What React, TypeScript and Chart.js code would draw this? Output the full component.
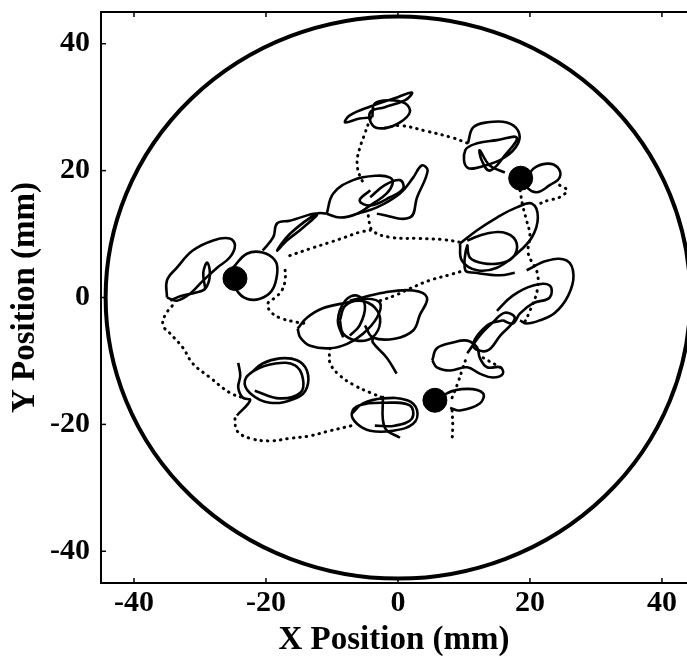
import React, { useEffect, useRef } from "react";
import { Chart, registerables } from "chart.js";
Chart.register(...registerables);

type P = [number, number];

const xTicks = [-40, -20, 0, 20, 40];
const yTicks = [-40, -20, 0, 20, 40];
const xMin = -45;
const xMax = 43.8;
const yMin = -45;
const yMax = 45;
const arenaRadius = 44.3;

// stopping places (filled blobs)
const stopPoints: P[] = [[-24.7, 3.0], [18.6, 18.8], [5.6, -16.2]];

// solid (slow, looping) segments
const loopTop: P[] = [[-3.9, 28.4], [-5.8, 28.2], [-8.0, 27.6], [-7.3, 28.7], [-4.2, 30.1], [-0.5, 31.4], [2.1, 32.3], [1.1, 31.1], [-2.0, 30.0], [-4.2, 29.2], [-3.8, 27.1], [-2.0, 26.7], [0.3, 27.6], [1.8, 29.2], [1.1, 30.6], [-1.2, 31.1], [-3.5, 30.6], [-3.9, 28.4]];
const loopUpperRight: P[] = [[10.6, 24.3], [11.4, 26.8], [13.5, 27.6], [16.5, 27.6], [18.2, 26.3], [18.2, 24.3], [16.2, 22.1], [13.2, 20.8], [10.5, 20.5], [10.2, 23.2], [12.0, 24.3], [15.0, 24.8], [18.0, 25.2], [16.2, 22.4], [13.9, 20.0], [12.7, 21.6], [12.4, 23.2], [13.9, 20.8], [16.2, 19.7]];
const loopRightStop: P[] = [[19.7, 18.8], [20.5, 20.3], [22.6, 21.1], [24.2, 20.5], [24.5, 18.9], [23.0, 17.7], [21.1, 16.6], [19.7, 17.2], [19.2, 18.5]];
const loopRightMidA: P[] = [[9.4, 8.5], [12.0, 10.6], [15.0, 12.6], [18.0, 14.2], [20.3, 14.8], [21.2, 12.6], [20.3, 9.5], [18.0, 6.9], [15.0, 4.7], [12.0, 4.3], [9.7, 5.8], [9.4, 8.5]];
const loopRightMidB: P[] = [[10.5, 9.0], [13.5, 10.1], [16.5, 10.1], [18.0, 8.5], [17.4, 6.3], [15.5, 5.4], [12.9, 5.4], [10.9, 6.3], [10.5, 8.2], [10.2, 4.3], [11.7, 3.9], [15.5, 3.5], [17.7, 3.9]];
const loopUpperA: P[] = [[-10.8, 13.2], [-9.8, 16.4], [-6.8, 18.5], [-3.2, 19.2], [-1.2, 18.9], [-0.8, 18.0], [-1.7, 16.4], [-3.8, 14.8], [-6.2, 13.2], [-8.8, 12.6], [-10.8, 13.2]];
const loopUpperLeaf: P[] = [[-6.2, 13.2], [-3.2, 14.2], [0.3, 16.4], [2.3, 18.9], [3.6, 20.8], [4.5, 20.0], [2.9, 15.8], [1.8, 12.6], [-3.2, 13.2]];
const loopUpperInner: P[] = [[-4.2, 15.8], [-2.0, 17.7], [0.3, 18.5], [0.8, 17.2], [-1.2, 15.8], [-4.2, 14.5], [-5.8, 15.3], [-4.2, 16.9]];
const zigzagUpperLeft: P[] = [[-20.5, 7.4], [-18.9, 9.5], [-18.3, 11.7], [-16.4, 12.1], [-12.3, 13.2], [-14.4, 11.0], [-16.8, 9.0], [-18.3, 7.4], [-16.4, 10.0], [-12.3, 13.2], [-10.8, 13.2]];
const loopLeftBig: P[] = [[-35.0, 0.0], [-35.0, 2.7], [-33.5, 4.7], [-31.1, 7.4], [-28.0, 9.0], [-25.5, 9.3], [-24.7, 8.2], [-25.5, 6.3], [-27.4, 4.7], [-29.5, 2.7], [-31.5, 0.6], [-33.5, -0.5], [-35.0, 0.0]];
const loopLeftSmall: P[] = [[-25.0, 4.7], [-22.9, 6.9], [-20.5, 7.1], [-18.6, 5.8], [-18.3, 3.8], [-19.1, 1.1], [-20.9, -0.2], [-22.9, -0.2], [-24.4, 1.1], [-25.0, 3.5]];
const loopLeftNub: P[] = [[-29.2, 1.4], [-29.5, 3.9], [-28.9, 5.5], [-28.5, 3.5], [-29.2, 1.4], [-30.6, 0.8], [-33.0, 0.2], [-34.5, -0.5]];
const loopLowerLeft: P[] = [[-22.4, -12.0], [-20.5, -10.4], [-17.9, -9.6], [-15.3, -9.9], [-13.8, -11.5], [-13.8, -14.2], [-15.3, -15.8], [-19.4, -16.6], [-22.4, -15.1], [-23.2, -13.1], [-21.7, -11.5], [-18.6, -10.4], [-15.6, -10.7], [-14.4, -12.8], [-14.8, -15.0], [-17.9, -15.9], [-21.7, -14.7]];
const spurLowerLeft: P[] = [[-24.2, -10.3], [-23.9, -12.3], [-24.2, -14.2], [-23.5, -15.8], [-22.4, -16.2], [-24.4, -18.6]];
const loopBottom: P[] = [[-7.0, -18.3], [-5.3, -16.7], [-2.3, -15.9], [1.4, -16.2], [2.9, -17.8], [2.3, -19.9], [-0.8, -21.0], [-4.2, -21.0], [-6.2, -19.9], [-7.0, -18.3], [-5.8, -17.0], [-2.0, -16.6], [1.8, -17.0], [2.1, -19.1], [-0.5, -20.2], [-3.5, -20.2]];
const spurBottom: P[] = [[-2.3, -15.5], [-2.0, -20.5], [0.3, -22.1]];
const loopBottomStop: P[] = [[6.4, -16.6], [7.4, -15.1], [10.5, -14.4], [12.9, -15.1], [12.4, -16.7], [9.4, -17.8], [7.9, -17.4]];
const loopLowerRight: P[] = [[5.2, -9.9], [5.9, -8.0], [8.3, -7.1], [10.5, -6.8], [12.0, -7.9], [12.4, -9.5], [13.5, -11.0], [15.5, -11.0], [15.9, -12.0], [14.4, -12.6], [12.4, -12.0], [10.5, -11.0], [7.9, -11.5], [5.9, -11.0], [5.2, -9.9]];
const chainLowerRight: P[] = [[10.5, -8.8], [12.4, -6.0], [14.4, -3.9], [16.2, -2.4], [17.7, -3.3], [15.5, -6.0], [13.5, -8.4], [11.4, -7.6], [13.5, -4.4], [15.9, -3.6]];
const loopRightUpper: P[] = [[15.0, -2.1], [17.4, 0.3], [20.5, 1.9], [23.0, 1.9], [23.0, 0.0], [20.5, -0.9], [18.5, -2.5], [17.4, -4.1], [15.9, -3.6]];
const loopRightBig: P[] = [[19.5, 4.3], [22.6, 5.8], [25.6, 5.8], [26.6, 3.5], [25.8, 0.3], [23.8, -2.4], [21.5, -3.6], [19.5, -4.1], [18.5, -3.6]];
const loopMidA: P[] = [[-15.2, -4.9], [-13.8, -3.2], [-11.4, -1.7], [-7.7, -0.8], [-4.7, -0.2], [-2.7, -0.9], [-3.2, -3.2], [-5.3, -5.7], [-7.7, -7.3], [-10.3, -8.0], [-13.3, -7.6], [-14.8, -6.3], [-15.2, -4.9]];
const loopMidB: P[] = [[-8.8, -3.6], [-8.0, -1.3], [-5.8, -0.5], [-3.5, -1.6], [-2.7, -3.9], [-3.9, -6.3], [-6.2, -6.8], [-8.3, -5.7], [-8.8, -3.6]];
const loopMidC: P[] = [[-7.3, -0.5], [-2.0, 0.8], [2.3, 1.1], [4.4, 0.0], [3.3, -2.8], [2.3, -5.2], [-0.5, -6.5], [-3.8, -6.3], [-5.0, -4.4]];
const loopMidD: P[] = [[-8.3, -6.3], [-9.1, -3.6], [-8.0, -0.5], [-6.2, 0.3], [-5.0, -1.3], [-5.8, -4.4], [-7.3, -6.0]];
const tailMid: P[] = [[-3.8, -6.3], [-3.8, -7.1], [-1.7, -9.5], [-0.2, -12.0]];

// dotted (fast travel) segments
const dotTopDown: P[] = [[-4.2, 28.2], [-5.0, 25.9], [-5.8, 23.5], [-6.2, 21.3], [-5.8, 19.2], [-5.0, 17.7]];
const dotTopRight: P[] = [[-2.0, 26.7], [0.3, 27.1], [4.4, 26.2], [8.2, 25.2], [10.6, 24.3]];
const dotUpperToRight: P[] = [[-4.5, 12.9], [-3.9, 10.6], [-1.2, 9.5], [3.3, 9.3], [7.1, 9.1], [9.4, 8.7]];
const dotLeftToUpper: P[] = [[-16.4, 6.6], [-13.3, 7.7], [-10.3, 8.7], [-8.0, 9.5], [-5.8, 10.3], [-4.2, 10.6]];
const dotLeftToMiddle: P[] = [[-17.1, 4.3], [-17.1, 2.7], [-17.6, 1.1], [-18.6, 0.0], [-19.7, -0.9], [-19.4, -2.1], [-17.9, -3.2], [-15.3, -3.9], [-13.8, -4.1]];
const dotLeftToLowerLeft: P[] = [[-34.2, -1.3], [-35.3, -2.8], [-35.6, -4.4], [-34.5, -5.7], [-32.6, -7.9], [-31.1, -10.4], [-28.5, -12.6], [-25.5, -15.0], [-23.5, -15.8]];
const dotLowerLeftToBottom: P[] = [[-24.7, -19.1], [-24.4, -21.0], [-22.4, -22.2], [-19.4, -22.6], [-16.4, -22.2], [-13.3, -21.8], [-10.3, -21.0], [-7.0, -20.2]];
const dotMiddleToBottom: P[] = [[-10.3, -8.0], [-10.3, -10.3], [-8.8, -12.3], [-6.5, -13.9], [-4.2, -15.0], [-2.3, -15.8]];
const dotMiddleToRight: P[] = [[-2.7, -0.5], [-0.5, 0.3], [1.8, 1.4], [4.8, 2.7], [7.9, 3.6], [10.2, 4.3]];
const dotRightStopDown: P[] = [[18.5, 16.9], [18.9, 14.5], [19.5, 12.1], [20.0, 9.8], [19.7, 7.4], [20.0, 6.2], [21.1, 3.9], [21.1, 1.1], [20.0, -2.1], [19.2, -3.9]];
const dotRightStopTail: P[] = [[24.5, 17.7], [25.6, 16.9], [24.5, 15.8], [22.7, 15.3], [21.5, 14.8]];
const dotBottomStopUp: P[] = [[8.2, -15.8], [9.1, -13.4], [9.8, -11.2], [10.5, -9.1]];
const dotBottomStopTail: P[] = [[8.2, -17.8], [8.3, -20.2], [8.2, -22.6]];
const dotLowerRightShort: P[] = [[12.9, -9.5], [15.5, -11.0]];

const solidSegments = [loopTop, loopUpperRight, loopRightStop, loopRightMidA, loopRightMidB, loopUpperA, loopUpperLeaf, loopUpperInner, zigzagUpperLeft, loopLeftBig, loopLeftSmall, loopLeftNub, loopLowerLeft, spurLowerLeft, loopBottom, spurBottom, loopBottomStop, loopLowerRight, chainLowerRight, loopRightUpper, loopRightBig, loopMidA, loopMidB, loopMidC, loopMidD, tailMid];
const dottedSegments = [dotTopDown, dotTopRight, dotUpperToRight, dotLeftToUpper, dotLeftToMiddle, dotLeftToLowerLeft, dotLowerLeftToBottom, dotMiddleToBottom, dotMiddleToRight, dotRightStopDown, dotRightStopTail, dotBottomStopUp, dotBottomStopTail, dotLowerRightShort];

const toXY = (arr: P[]) => arr.map(([x, y]) => ({ x, y }));

const framePlugin = {
  id: "frame",
  beforeDatasetsDraw(chart: any) {
    const { ctx, scales } = chart;
    const x = scales.x, y = scales.y;
    const cx = x.getPixelForValue(0);
    const cy = y.getPixelForValue(0);
    const rx = Math.abs(x.getPixelForValue(arenaRadius) - cx);
    const ry = Math.abs(y.getPixelForValue(arenaRadius) - cy);
    ctx.save();
    ctx.beginPath();
    ctx.ellipse(cx, cy, rx, ry, 0, 0, Math.PI * 2);
    ctx.lineWidth = 4;
    ctx.strokeStyle = "#000";
    ctx.stroke();
    ctx.restore();
  },
  afterDraw(chart: any) {
    const { ctx, chartArea: a, scales } = chart;
    const x = scales.x, y = scales.y;
    ctx.save();
    ctx.strokeStyle = "#000";
    ctx.lineWidth = 2;
    ctx.beginPath();
    ctx.moveTo(a.left, a.top);
    ctx.lineTo(a.right, a.top);
    ctx.stroke();
    ctx.lineWidth = 1.5;
    for (const v of xTicks) {
      const px = x.getPixelForValue(v);
      ctx.beginPath();
      ctx.moveTo(px, a.bottom);
      ctx.lineTo(px, a.bottom - 5);
      ctx.moveTo(px, a.top);
      ctx.lineTo(px, a.top + 5);
      ctx.stroke();
    }
    for (const v of yTicks) {
      const py = y.getPixelForValue(v);
      ctx.beginPath();
      ctx.moveTo(a.left, py);
      ctx.lineTo(a.left + 5, py);
      ctx.stroke();
    }
    ctx.restore();
  },
};

export default function App() {
  const ref = useRef<HTMLCanvasElement | null>(null);
  useEffect(() => {
    if (!ref.current) return;
    const datasets: any[] = [];
    for (const seg of dottedSegments) {
      datasets.push({
        data: toXY(seg),
        showLine: true,
        borderColor: "#000",
        borderWidth: 3,
        borderDash: [0.5, 6],
        borderCapStyle: "round",
        pointRadius: 0,
        tension: 0.4,
      });
    }
    for (const seg of solidSegments) {
      datasets.push({
        data: toXY(seg),
        showLine: true,
        borderColor: "#000",
        borderWidth: 2.6,
        pointRadius: 0,
        tension: 0.4,
      });
    }
    datasets.push({
      data: toXY(stopPoints),
      showLine: false,
      pointRadius: 12,
      pointBackgroundColor: "#000",
      pointBorderColor: "#000",
    });
    const tickFont = { family: "'Liberation Serif', 'Times New Roman', serif", weight: "bold" as const, size: 30 };
    const titleFont = { family: "'Liberation Serif', 'Times New Roman', serif", weight: "bold" as const, size: 33 };
    const chart = new Chart(ref.current, {
      type: "scatter",
      data: { datasets },
      plugins: [framePlugin],
      options: {
        animation: false,
        responsive: false,
        devicePixelRatio: 1,
        layout: { autoPadding: false, padding: { top: 12, right: 0, bottom: 0, left: 0 } },
        plugins: { legend: { display: false }, tooltip: { enabled: false } },
        scales: {
          x: {
            type: "linear",
            min: xMin,
            max: xMax,
            afterBuildTicks: (s: any) => { s.ticks = xTicks.map((v) => ({ value: v })); },
            afterFit: (s: any) => { s.height = 77; s.paddingLeft = 0; s.paddingRight = 0; s.paddingTop = 0; s.paddingBottom = 0; },
            grid: { display: false, drawTicks: false },
            border: { display: true, color: "#000", width: 2 },
            ticks: { color: "#000", font: tickFont, padding: 2, maxRotation: 0 },
            title: { display: true, text: "X Position (mm)", color: "#000", font: titleFont, padding: { top: 0, bottom: 0 } },
          },
          y: {
            type: "linear",
            min: yMin,
            max: yMax,
            afterBuildTicks: (s: any) => { s.ticks = yTicks.map((v) => ({ value: v })); },
            afterFit: (s: any) => { s.width = 101; s.paddingLeft = 0; s.paddingRight = 0; s.paddingTop = 0; s.paddingBottom = 0; },
            grid: { display: false, drawTicks: false },
            border: { display: true, color: "#000", width: 2 },
            ticks: { color: "#000", font: tickFont, padding: 11 },
            title: { display: true, text: "Y Position (mm)", color: "#000", font: titleFont, padding: { top: 6, bottom: 0 } },
          },
        },
      },
    });
    return () => chart.destroy();
  }, []);
  return (
    <div style={{ position: "absolute", left: 0, top: 0, width: 687, height: 660, background: "#fff" }}>
      <canvas ref={ref} width={687} height={660} />
    </div>
  );
}
